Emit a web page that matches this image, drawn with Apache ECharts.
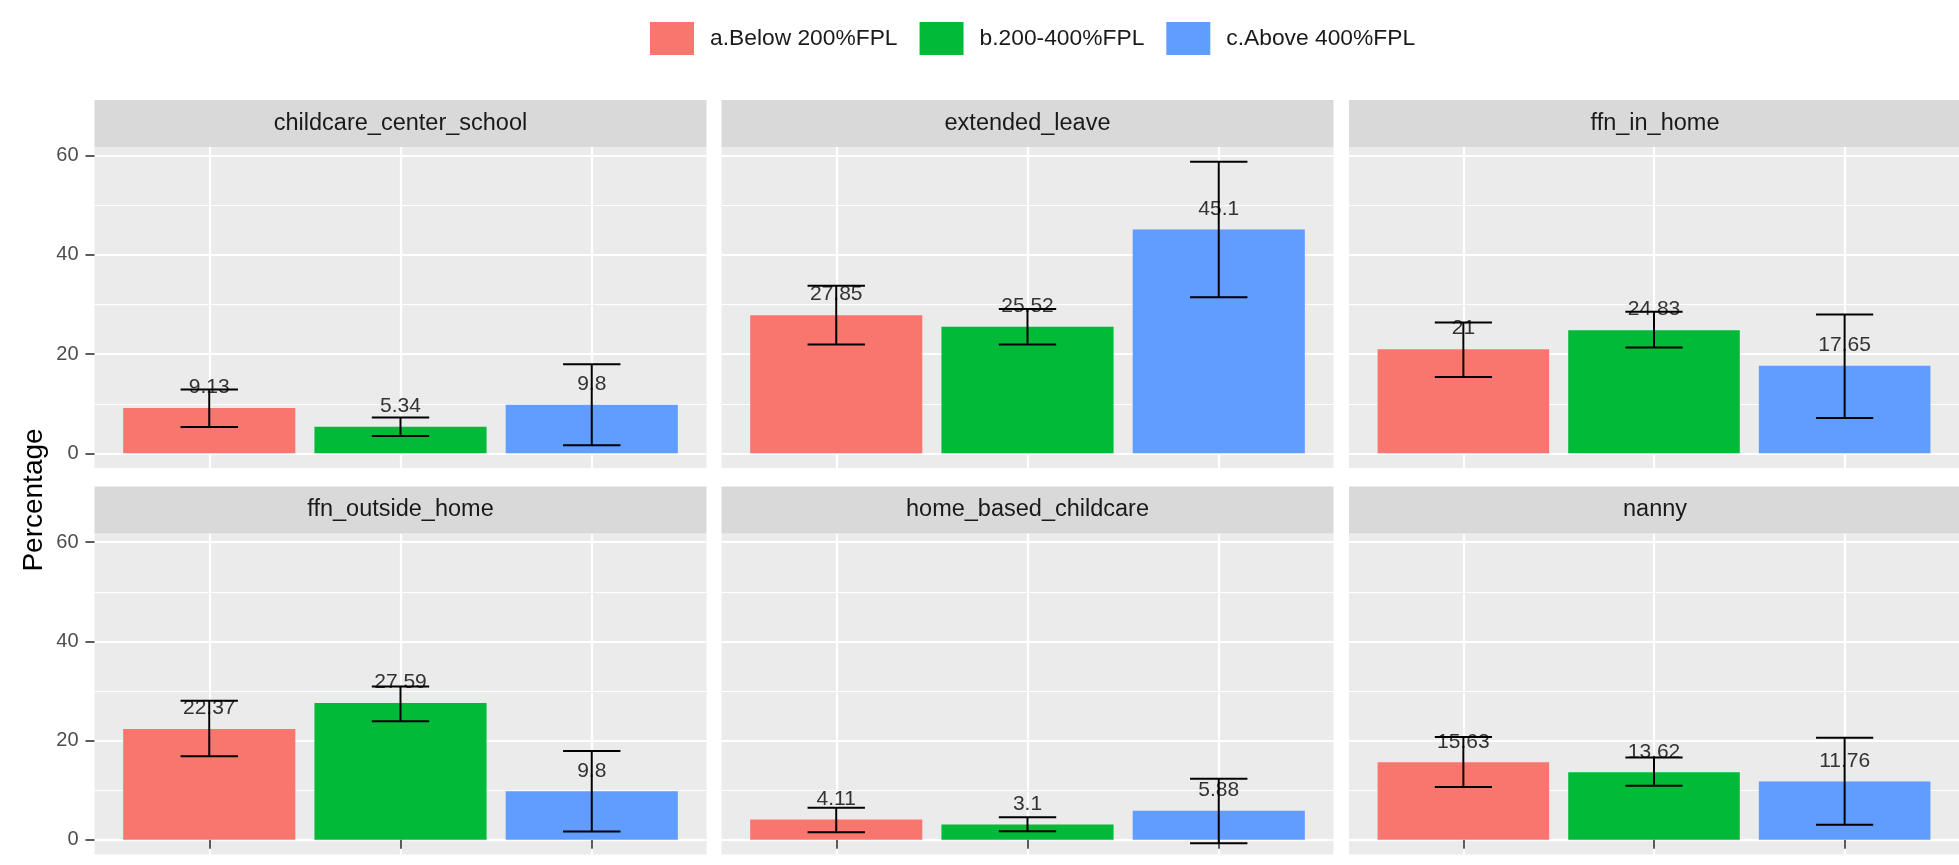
<!DOCTYPE html>
<html>
<head>
<meta charset="utf-8">
<script src="https://cdn.jsdelivr.net/npm/echarts@6/dist/echarts.min.js"></script>
<style>
html,body{margin:0;padding:0;background:#fff;}
#chart{width:1959px;height:865px;}
</style>
</head>
<body>
<div id="chart"></div>
<script>
// ---- data ----
const facets = ['childcare_center_school','extended_leave','ffn_in_home','ffn_outside_home','home_based_childcare','nanny'];
const groups = ['a.Below 200%FPL','b.200-400%FPL','c.Above 400%FPL'];
const groupColors = ['#F8766D','#00BA38','#619CFF'];
const yTickLabels = [0,20,40,60];

const meanBelow200 = [9.13, 27.85, 21, 22.37, 4.11, 15.63];
const mean200to400 = [5.34, 25.52, 24.83, 27.59, 3.1, 13.62];
const meanAbove400 = [9.8, 45.1, 17.65, 9.8, 5.88, 11.76];

const lowBelow200  = [5.32, 21.95, 15.4, 16.85, 1.54, 10.65];
const highBelow200 = [12.87, 33.8, 26.4, 28.05, 6.47, 20.75];
const low200to400  = [3.5, 21.95, 21.35, 23.9, 1.75, 10.9];
const high200to400 = [7.21, 29.1, 28.55, 30.9, 4.58, 16.6];
const lowAbove400  = [1.62, 31.45, 7.14, 1.7, -0.69, 3.03];
const highAbove400 = [17.98, 58.8, 28.0, 17.9, 12.3, 20.6];

const means = [meanBelow200, mean200to400, meanAbove400];
const lows = [lowBelow200, low200to400, lowAbove400];
const highs = [highBelow200, high200to400, highAbove400];

// ---- layout ----
const FONT = '"Liberation Sans", Arial, sans-serif';
const colLefts = [94.5, 721.5, 1349];
const panelW = 612;
const stripTops = [100, 486.5];
const stripH = 47;
const panelH = 321;
const yMin = -2.95, yMax = 61.75;
const capWidth = 0.3;

const chart = echarts.init(document.getElementById('chart'), null, {renderer:'canvas'});

const grids = [], xAxes = [], yAxes = [], series = [], graphics = [];

facets.forEach((name, fi) => {
  const col = fi % 3, row = Math.floor(fi / 3);
  const left = colLefts[col];
  const top = stripTops[row] + stripH;
  grids.push({left: left, top: top, width: panelW, height: panelH, show: true,
    backgroundColor: '#EBEBEB', borderWidth: 0, containLabel: false});
  xAxes.push({type: 'value', gridIndex: fi, min: 0.4, max: 3.6,
    axisLine: {show: false}, splitLine: {show: false},
    axisLabel: {show: false, customValues: [1,2,3]},
    axisTick: {show: row === 1, customValues: [1,2,3], length: 9, lineStyle: {color: '#333', width: 1.6}}});
  yAxes.push({type: 'value', gridIndex: fi, min: yMin, max: yMax,
    axisLine: {show: false}, splitLine: {show: false},
    axisLabel: {show: col === 0, customValues: yTickLabels, margin: 16, color: '#4D4D4D', fontSize: 20, fontFamily: FONT},
    axisTick: {show: col === 0, customValues: yTickLabels, length: 9, lineStyle: {color: '#333', width: 1.6}}});

  // grid lines (drawn beneath bars)
  const major = {color: '#FFFFFF', width: 2.2, type: 'solid'};
  const minor = {color: '#FFFFFF', width: 1.1, type: 'solid'};
  const mlData = [];
  [10,30,50].forEach(v => mlData.push({yAxis: v, lineStyle: minor}));
  yTickLabels.forEach(v => mlData.push({yAxis: v, lineStyle: major}));
  [1,2,3].forEach(v => mlData.push({xAxis: v, lineStyle: major}));
  series.push({type: 'line', name: 'grid' + fi, xAxisIndex: fi, yAxisIndex: fi, data: [], z: 0,
    silent: true, showSymbol: false,
    markLine: {silent: true, z: 0, symbol: ['none','none'], label: {show: false}, animation: false, data: mlData}});

  // bars
  groups.forEach((g, gi) => {
    series.push({type: 'bar', name: g, xAxisIndex: fi, yAxisIndex: fi,
      data: [[gi + 1, means[gi][fi]]],
      barWidth: '90%', barGap: '-100%', z: 2,
      itemStyle: {color: groupColors[gi]},
      label: {show: true, position: 'top', distance: 10, color: '#333', fontSize: 21, fontFamily: FONT,
        formatter: p => String(p.value[1])},
      animation: false});
  });

  // error bars
  const errData = groups.map((g, gi) => [gi + 1, lows[gi][fi], highs[gi][fi]]);
  series.push({type: 'custom', name: 'err' + fi, xAxisIndex: fi, yAxisIndex: fi, z: 10,
    data: errData, encode: {x: 0, y: [1, 2]}, animation: false, silent: true,
    renderItem: function (params, api) {
      const x = api.value(0), lo = api.value(1), hi = api.value(2);
      const pLo = api.coord([x, lo]), pHi = api.coord([x, hi]);
      const half = api.size([capWidth, 0])[0] / 2;
      const st = {stroke: '#000', lineWidth: 2};
      return {type: 'group', children: [
        {type: 'line', shape: {x1: pLo[0], y1: pLo[1], x2: pHi[0], y2: pHi[1]}, style: st},
        {type: 'line', shape: {x1: pLo[0]-half, y1: pLo[1], x2: pLo[0]+half, y2: pLo[1]}, style: st},
        {type: 'line', shape: {x1: pHi[0]-half, y1: pHi[1], x2: pHi[0]+half, y2: pHi[1]}, style: st}
      ]};
    }});

  // strip
  graphics.push({type: 'rect', left: left, top: stripTops[row], shape: {width: panelW, height: stripH},
    style: {fill: '#D9D9D9'}, silent: true, z: 1});
  graphics.push({type: 'text', x: left + panelW / 2, y: stripTops[row] + stripH / 2,
    style: {text: name, fill: '#1A1A1A', font: '23.5px ' + FONT, textAlign: 'center', textVerticalAlign: 'middle'},
    silent: true, z: 2});
});

graphics.push({type: 'text', x: 34, y: 500, rotation: Math.PI / 2,
  style: {text: 'Percentage', fill: '#000', font: '28px ' + FONT, textAlign: 'center', textVerticalAlign: 'middle'},
  silent: true});

chart.setOption({
  animation: false,
  backgroundColor: '#FFFFFF',
  legend: {data: groups, left: 645, top: 17, orient: 'horizontal', icon: 'rect',
    itemWidth: 44, itemHeight: 33, itemGap: 22,
    textStyle: {fontSize: 22.8, color: '#1A1A1A', fontFamily: FONT, padding: [0,0,0,11]}},
  grid: grids,
  xAxis: xAxes,
  yAxis: yAxes,
  series: series,
  graphic: graphics
});
</script>
</body>
</html>
